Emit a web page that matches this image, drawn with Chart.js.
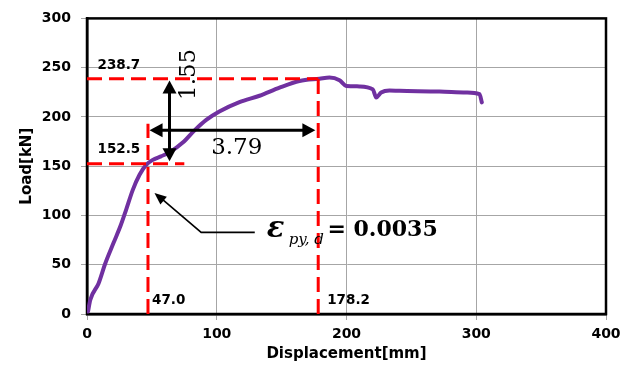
<!DOCTYPE html>
<html>
<head>
<meta charset="utf-8">
<script src="https://cdn.jsdelivr.net/npm/chart.js@4.4.1/dist/chart.umd.min.js"></script>
<style>
  body { margin: 0; background: #fff; }
  canvas { display: block; }
</style>
</head>
<body>
<canvas id="myChart" width="636" height="365"></canvas>
<script>
// load-displacement curve
var displacement = [0.8, 2.5, 8.9, 14.0, 20.4, 26.0, 30.2, 35.3, 40.5, 45.6, 50.7, 57.0, 63.6, 73.8, 82.9, 91.9, 102.0, 117.5, 133.0, 148.4, 163.8, 179.2, 186.9, 194.6, 199.8, 210.0, 220.3, 222.9, 226.7, 233.1, 240.8, 271.7, 292.3, 302.5, 304.3];
var load = [2.6, 14.3, 31.0, 51.0, 72.0, 90.0, 106.0, 126.0, 141.3, 151.3, 156.4, 160.0, 164.0, 174.0, 186.4, 197.0, 205.5, 215.0, 221.5, 229.8, 236.5, 238.8, 239.9, 237.2, 231.5, 231.0, 228.0, 219.8, 224.8, 226.8, 226.5, 225.8, 224.8, 223.1, 214.8];

// yield and peak points
var yieldPoint = [47.0, 152.5];
var peakPoint = [178.2, 238.7];

// red dashed guide lines: [x1, y1, x2, y2]
var guideLines = [
    [0, 238.7, 178.2, 238.7],
    [178.2, 0, 178.2, 238.7],
    [0, 152.5, 75, 152.5],
    [47.0, 0, 47.0, 193]
];

// black double arrows: [x1, y1, x2, y2]
var doubleArrows = [
    [63.6, 155, 63.6, 237],
    [48.2, 186.6, 176, 186.6]
];

// callout: start, elbow, arrow tip
var calloutX = [129.3, 88, 52];
var calloutY = [82.8, 82.8, 122.9];

var xTicks = [0, 100, 200, 300, 400];
var yTicks = [0, 50, 100, 150, 200, 250, 300];

function px(chart, x) { return chart.scales.x.getPixelForValue(x); }
function py(chart, y) { return chart.scales.y.getPixelForValue(y); }

function arrowHead(ctx, x1, y1, x2, y2, len, half) {
    var a = Math.atan2(y2 - y1, x2 - x1);
    ctx.beginPath();
    ctx.moveTo(x2, y2);
    ctx.lineTo(x2 - len * Math.cos(a) + half * Math.sin(a), y2 - len * Math.sin(a) - half * Math.cos(a));
    ctx.lineTo(x2 - len * Math.cos(a) - half * Math.sin(a), y2 - len * Math.sin(a) + half * Math.cos(a));
    ctx.closePath();
    ctx.fill();
}

var frameAndNotes = {
    id: "frameAndNotes",
    beforeDatasetsDraw: function (chart) {
        var ctx = chart.ctx, a = chart.chartArea;
        ctx.save();
        ctx.strokeStyle = "#000";
        ctx.lineWidth = 2.5;
        ctx.strokeRect(a.left, a.top, a.right - a.left, a.bottom - a.top);
        ctx.restore();
    },
    afterDatasetsDraw: function (chart) {
        var ctx = chart.ctx;
        ctx.save();

        // red dashed lines
        ctx.strokeStyle = "#ff0000";
        ctx.lineWidth = 3;
        ctx.setLineDash([15, 7]);
        guideLines.forEach(function (l) {
            ctx.beginPath();
            ctx.moveTo(px(chart, l[0]), py(chart, l[1]));
            ctx.lineTo(px(chart, l[2]), py(chart, l[3]));
            ctx.stroke();
        });
        ctx.setLineDash([]);

        // double arrows
        ctx.strokeStyle = "#000";
        ctx.fillStyle = "#000";
        ctx.lineWidth = 3;
        doubleArrows.forEach(function (l) {
            var x1 = px(chart, l[0]), y1 = py(chart, l[1]);
            var x2 = px(chart, l[2]), y2 = py(chart, l[3]);
            var a = Math.atan2(y2 - y1, x2 - x1);
            ctx.beginPath();
            ctx.moveTo(x1 + 8 * Math.cos(a), y1 + 8 * Math.sin(a));
            ctx.lineTo(x2 - 8 * Math.cos(a), y2 - 8 * Math.sin(a));
            ctx.stroke();
            arrowHead(ctx, x1, y1, x2, y2, 13, 7);
            arrowHead(ctx, x2, y2, x1, y1, 13, 7);
        });

        // callout arrow
        ctx.lineWidth = 1.6;
        ctx.beginPath();
        ctx.moveTo(px(chart, calloutX[0]), py(chart, calloutY[0]));
        ctx.lineTo(px(chart, calloutX[1]), py(chart, calloutY[1]));
        ctx.lineTo(px(chart, calloutX[2]) + 5, py(chart, calloutY[2]) + 4);
        ctx.stroke();
        arrowHead(ctx, px(chart, calloutX[1]), py(chart, calloutY[1]), px(chart, calloutX[2]), py(chart, calloutY[2]), 12, 5);

        // value labels
        ctx.fillStyle = "#000";
        ctx.font = "bold 13.5px 'DejaVu Sans'";
        ctx.textBaseline = "middle";
        ctx.textAlign = "left";
        ctx.fillText(peakPoint[1].toFixed(1), px(chart, 8.1), py(chart, peakPoint[1]) - 13);
        ctx.fillText(yieldPoint[1].toFixed(1), px(chart, 8.1), py(chart, yieldPoint[1]) - 14);
        ctx.fillText(yieldPoint[0].toFixed(1), px(chart, yieldPoint[0]) + 4, py(chart, 13.3));
        ctx.fillText(peakPoint[0].toFixed(1), px(chart, peakPoint[0]) + 9, py(chart, 13.3));

        // ratios
        ctx.font = "23px 'DejaVu Serif'";
        ctx.fillText("3.79", px(chart, 95.7), py(chart, 168));
        ctx.save();
        ctx.translate(px(chart, 79), py(chart, 243.2));
        ctx.rotate(-Math.PI / 2);
        ctx.textAlign = "center";
        ctx.fillText("1.55", 0, 0);
        ctx.restore();

        // strain formula
        var fx = px(chart, 138.5), fy = py(chart, 78);
        ctx.textBaseline = "alphabetic";
        ctx.font = "italic bold 29px 'DejaVu Serif'";
        ctx.fillText("\u03b5", fx, fy);
        ctx.font = "italic 15px 'DejaVu Serif'";
        ctx.fillText("py, d", fx + 22, fy + 7);
        ctx.font = "bold 22px 'DejaVu Serif'";
        ctx.fillText("= 0.0035", px(chart, 185.3), py(chart, 79.5));

        ctx.restore();
    }
};

var points = [];
for (var i = 0; i < displacement.length; i++) {
    points.push({ x: displacement[i], y: load[i] });
}

var tickFont = { family: "'DejaVu Sans'", size: 14, weight: "bold" };

var config = {
    type: "line",
    data: {
        datasets: [
            {
                label: "Load",
                data: points,
                borderColor: "#7030a0",
                borderWidth: 4,
                pointRadius: 0,
                cubicInterpolationMode: "monotone",
                borderJoinStyle: "round",
                borderCapStyle: "round",
                fill: false,
            },
        ],
    },
    options: {
        responsive: false,
        animation: false,
        layout: { padding: { top: 15, right: 30, left: 0, bottom: 0 } },
        plugins: { legend: { display: false }, tooltip: { enabled: false } },
        scales: {
            x: {
                type: "linear",
                min: 0,
                max: 400,
                afterBuildTicks: function (scale) {
                    scale.ticks = xTicks.map(function (v) { return { value: v }; });
                },
                ticks: { font: tickFont, color: "#000", padding: 6, maxRotation: 0 },
                grid: { color: "#a6a6a6", lineWidth: 1, tickLength: 6 },
                border: { color: "#000", width: 2.5 },
                title: {
                    display: true,
                    text: "Displacement[mm]",
                    font: { family: "'DejaVu Sans'", size: 15, weight: "bold" },
                    color: "#000",
                    padding: { top: 0, bottom: 2 },
                },
                afterFit: function (scale) { scale.height = 51; },
            },
            y: {
                min: 0,
                max: 300,
                afterBuildTicks: function (scale) {
                    scale.ticks = yTicks.map(function (v) { return { value: v }; });
                },
                ticks: { font: tickFont, color: "#000", padding: 10 },
                grid: { color: "#a6a6a6", lineWidth: 1, tickLength: 6 },
                border: { color: "#000", width: 2.5 },
                title: {
                    display: true,
                    text: "Load[kN]",
                    font: { family: "'DejaVu Sans'", size: 15, weight: "bold" },
                    color: "#000",
                    padding: { top: 18, bottom: 0 },
                },
                afterFit: function (scale) { scale.width = 87; },
            },
        },
    },
    plugins: [frameAndNotes],
};

var ctx = document.getElementById("myChart").getContext("2d");
var myChart = new Chart(ctx, config);
</script>
</body>
</html>
